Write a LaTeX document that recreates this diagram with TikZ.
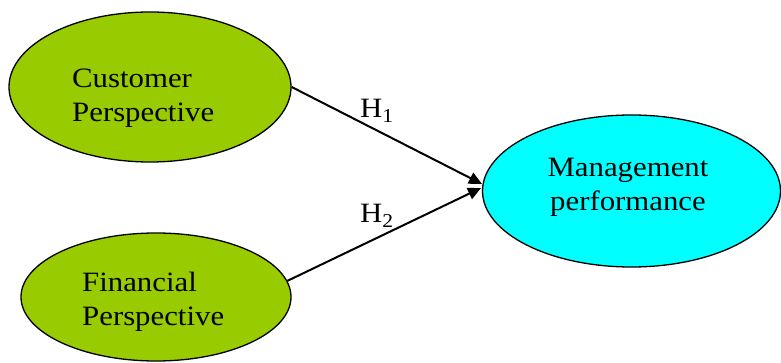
\documentclass[tikz,border=0pt]{standalone}
\usepackage{fontspec}
\setmainfont{Liberation Serif}[FakeStretch=1.1]
\usetikzlibrary{shapes.geometric,arrows.meta}
\definecolor{leaf}{HTML}{99CC00}
\definecolor{aqua}{HTML}{00FFFF}
\tikzset{
  oval/.style={ellipse, draw=black, line width=1.3pt, inner sep=0pt},
  lbl/.style={inner sep=0pt, font=\fontsize{28}{34}\selectfont},
  link/.style={line width=2pt, -{Triangle[length=13pt,width=12pt]}}
}
\begin{document}
\begin{tikzpicture}[x=1pt,y=-1pt]
\useasboundingbox (0,0) rectangle (781,363);
\node[oval, fill=leaf, minimum width=282pt, minimum height=150pt] (cust) at (150,87) {};
\node[oval, fill=leaf, minimum width=270pt, minimum height=128pt] (fin) at (156,297) {};
\node[oval, fill=aqua, minimum width=298pt, minimum height=152pt] (mgmt) at (631.5,191) {};
\node[lbl, anchor=base west] (c1) at (72,88) {Customer};
\node[lbl, anchor=base west] (c2) at (72,122) {Perspective};
\node[lbl, anchor=base west] (f1) at (82,291) {Financial};
\node[lbl, anchor=base west] (f2) at (82,325) {Perspective};
\node[lbl, anchor=base] (m1) at (628,177) {Management};
\node[lbl, anchor=base] (m2) at (628,211) {performance};
\node[lbl, anchor=base west] (h1) at (360,118) {H\textsubscript{1}};
\node[lbl, anchor=base west] (h2) at (360,223) {H\textsubscript{2}};
\coordinate (t1) at (482,184);
\coordinate (t2) at (481,188);
\draw[link] (cust.east) -- (t1);
\draw[link] (fin.7) -- (t2);
\end{tikzpicture}
\end{document}
